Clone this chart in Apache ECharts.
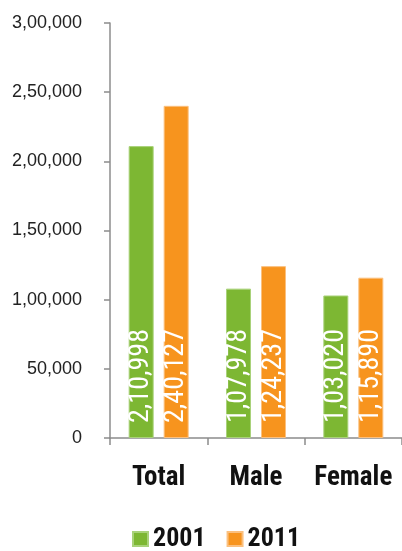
<!DOCTYPE html>
<html>
<head>
<meta charset="utf-8">
<script src="https://cdn.jsdelivr.net/npm/echarts@6/dist/echarts.min.js"></script>
<style>html,body{margin:0;padding:0;background:#fff;}#c{width:402px;height:551px;}</style>
</head>
<body>
<div id="c"></div>
<script>
var categories = ['Total', 'Male', 'Female'];
var seriesNames = ['2001', '2011'];
var values2001 = [210998, 107978, 103020];
var values2011 = [240127, 124237, 115890];
var yTicks = [0, 50000, 100000, 150000, 200000, 250000, 300000];

function indian(n) {
  var s = String(Math.round(n));
  if (s.length <= 3) return s;
  var last3 = s.slice(-3), rest = s.slice(0, -3);
  return rest.replace(/\B(?=(\d{2})+(?!\d))/g, ',') + ',' + last3;
}

var NARROW = '"Liberation Sans Narrow", "Arial Narrow", "Roboto Condensed", "DejaVu Sans Condensed", sans-serif';
var chart = echarts.init(document.getElementById('c'), null, {renderer: 'canvas'});
var labelOpt = {
  show: true, position: 'insideBottom', rotate: 90, align: 'left', verticalAlign: 'middle',
  distance: 15, color: '#fff', fontFamily: NARROW, fontSize: 28,
  formatter: function (p) { return indian(p.value); }
};
chart.setOption({
  animation: false,
  grid: {left: 110, top: 23, bottom: 113, width: 295, containLabel: false},
  legend: {
    data: seriesNames, left: 132, top: 526, padding: 0, itemWidth: 15, itemHeight: 14, itemGap: 21,
    icon: 'rect',
    textStyle: {fontSize: 26, fontWeight: 'bold', fontFamily: NARROW, color: '#111'}
  },
  xAxis: {
    type: 'category', data: categories,
    axisLine: {lineStyle: {color: '#8c8c8c', width: 1.5}},
    axisTick: {show: true, length: 7, lineStyle: {color: '#8c8c8c', width: 1.5}},
    axisLabel: {interval: 0, hideOverlap: false, fontSize: 27, fontWeight: 'bold', fontFamily: NARROW, color: '#111', margin: 27}
  },
  yAxis: {
    type: 'value', min: 0, max: 300000, interval: 50000,
    splitLine: {show: false},
    axisLine: {show: true, lineStyle: {color: '#8c8c8c', width: 1.5}},
    axisTick: {show: true, length: 6, lineStyle: {color: '#8c8c8c', width: 1.5}},
    axisLabel: {fontSize: 18, fontFamily: '"Liberation Sans", Arial, sans-serif', color: '#222', margin: 28,
      formatter: function (v) { return indian(v); }}
  },
  series: [
    {name: seriesNames[0], type: 'bar', data: values2001, barWidth: 25, barGap: '40%',
     itemStyle: {color: '#7db733', borderColor: '#a9d27a', borderWidth: 1}, label: labelOpt},
    {name: seriesNames[1], type: 'bar', data: values2011, barWidth: 25,
     itemStyle: {color: '#f7941e', borderColor: '#fbc07f', borderWidth: 1}, label: labelOpt}
  ]
});
</script>
</body>
</html>
